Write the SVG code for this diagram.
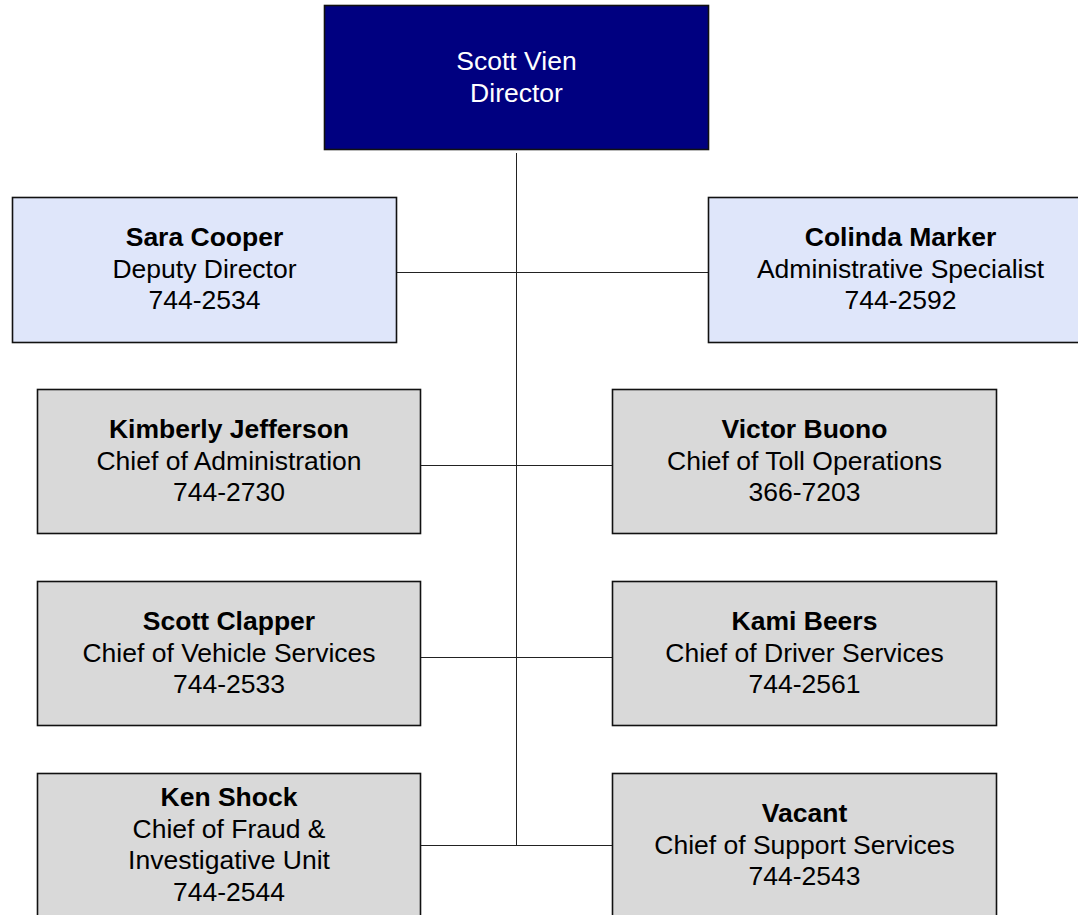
<svg xmlns="http://www.w3.org/2000/svg" width="1078" height="915" viewBox="0 0 1078 915">
<style>
  .box { stroke: #111; stroke-width: 1.6; }
  .dir { fill: #000080; }
  .blue { fill: #DFE6FA; }
  .gray { fill: #D9D9D9; }
  text { font-family: "Liberation Sans", Arial, sans-serif; font-size: 26.5px; text-anchor: middle; fill: #000; }
  .w { fill: #fff; }
  .b { font-weight: bold; }
  .conn { stroke: #222; stroke-width: 1; fill: none; }
</style>
<rect width="1078" height="915" fill="#fff"/>
<g id="connectors">
  <line class="conn" x1="516.5" y1="153" x2="516.5" y2="845.5"/>
  <line class="conn" x1="397" y1="272.5" x2="708" y2="272.5"/>
  <line class="conn" x1="421" y1="465.5" x2="612" y2="465.5"/>
  <line class="conn" x1="421" y1="657.5" x2="612" y2="657.5"/>
  <line class="conn" x1="421" y1="845.5" x2="612" y2="845.5"/>
</g>
<g id="node-director">
  <rect class="box dir" x="324.5" y="5.5" width="384" height="144"/>
  <text class="w" x="516.5" y="70">Scott Vien</text>
  <text class="w" x="516.5" y="102">Director</text>
</g>
<g id="node-sara">
  <rect class="box blue" x="12.5" y="197.5" width="384" height="145"/>
  <text class="b" x="204.5" y="246">Sara Cooper</text>
  <text x="204.5" y="278">Deputy Director</text>
  <text x="204.5" y="309">744-2534</text>
</g>
<g id="node-colinda">
  <rect class="box blue" x="708.5" y="197.5" width="384" height="145"/>
  <text class="b" x="900.5" y="246">Colinda Marker</text>
  <text x="900.5" y="278">Administrative Specialist</text>
  <text x="900.5" y="309">744-2592</text>
</g>
<g id="node-kimberly">
  <rect class="box gray" x="37.5" y="389.5" width="383" height="144"/>
  <text class="b" x="229" y="438">Kimberly Jefferson</text>
  <text x="229" y="470">Chief of Administration</text>
  <text x="229" y="501">744-2730</text>
</g>
<g id="node-victor">
  <rect class="box gray" x="612.5" y="389.5" width="384" height="144"/>
  <text class="b" x="804.5" y="438">Victor Buono</text>
  <text x="804.5" y="470">Chief of Toll Operations</text>
  <text x="804.5" y="501">366-7203</text>
</g>
<g id="node-clapper">
  <rect class="box gray" x="37.5" y="581.5" width="383" height="144"/>
  <text class="b" x="229" y="630">Scott Clapper</text>
  <text x="229" y="662">Chief of Vehicle Services</text>
  <text x="229" y="693">744-2533</text>
</g>
<g id="node-beers">
  <rect class="box gray" x="612.5" y="581.5" width="384" height="144"/>
  <text class="b" x="804.5" y="630">Kami Beers</text>
  <text x="804.5" y="662">Chief of Driver Services</text>
  <text x="804.5" y="693">744-2561</text>
</g>
<g id="node-shock">
  <rect class="box gray" x="37.5" y="773.5" width="383" height="145"/>
  <text class="b" x="229" y="806">Ken Shock</text>
  <text x="229" y="838">Chief of Fraud &amp;</text>
  <text x="229" y="869">Investigative Unit</text>
  <text x="229" y="901">744-2544</text>
</g>
<g id="node-vacant">
  <rect class="box gray" x="612.5" y="773.5" width="384" height="145"/>
  <text class="b" x="804.5" y="822">Vacant</text>
  <text x="804.5" y="854">Chief of Support Services</text>
  <text x="804.5" y="885">744-2543</text>
</g>
</svg>
